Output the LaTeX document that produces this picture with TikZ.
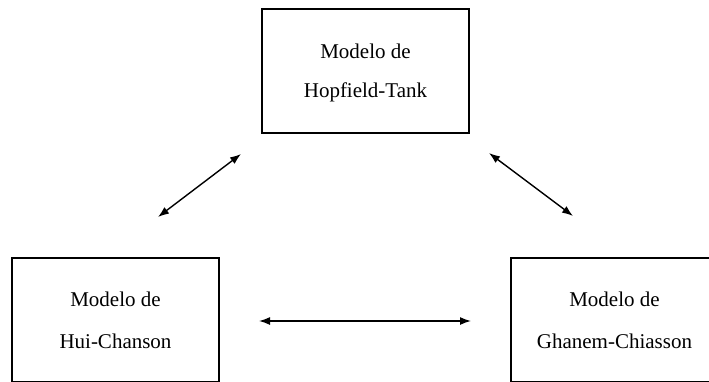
\documentclass[tikz,border=0pt]{standalone}
\usepackage{fontspec}
\setmainfont{Liberation Serif}
\usetikzlibrary{arrows.meta}
\begin{document}
\begin{tikzpicture}[x=1pt,y=-1pt,
  modelbox/.style={draw,line width=1.8pt,minimum width=207pt,minimum height=124pt,inner sep=0pt},
  boxtext/.style={anchor=base,inner sep=0pt,font=\fontsize{21}{25}\selectfont},
  link/.style={line width=1.4pt,{Latex[length=11pt,width=8pt]}-{Latex[length=11pt,width=8pt]}}]
  \useasboundingbox (0,0) rectangle (709,381);
  \clip (0,0) rectangle (709,381);
  \fill[white] (0,0) rectangle (709,381);

  % the three model boxes
  \node[modelbox] (hop) at (365.5,71) {};
  \node[modelbox] (hui) at (115.5,320) {};
  \node[modelbox] (gha) at (614.5,320) {};

  % their labels, two lines each
  \node[boxtext] (hopA) at ([yshift=-50pt]hop.north) {Modelo de};
  \node[boxtext] (hopB) at ([yshift=-89pt]hop.north) {Hopfield-Tank};
  \node[boxtext] (huiA) at ([yshift=-49pt]hui.north) {Modelo de};
  \node[boxtext] (huiB) at ([yshift=-91pt]hui.north) {Hui-Chanson};
  \node[boxtext] (ghaA) at ([yshift=-49pt]gha.north) {Modelo de};
  \node[boxtext] (ghaB) at ([yshift=-91pt]gha.north) {Ghanem-Chiasson};

  % end points of the double-headed links
  \coordinate (l1) at (158,217);
  \coordinate (l2) at (241,154);
  \coordinate (r1) at (489,153);
  \coordinate (r2) at (573,216);
  \coordinate (h1) at (259,321);
  \coordinate (h2) at (471,321);

  \draw[link] (l1) -- (l2);
  \draw[link] (r1) -- (r2);
  \draw[link] (h1) -- (h2);
\end{tikzpicture}
\end{document}
